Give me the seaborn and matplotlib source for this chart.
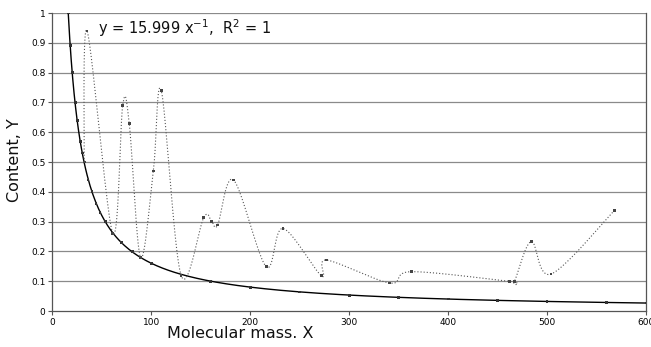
import numpy as np
import matplotlib.pyplot as plt
import seaborn as sns

# ---- data ----
# theoretical content (solid curve with small markers)
mass_calc = [16, 18, 20, 23, 25, 28, 30, 32, 36, 40, 44, 48, 54, 61, 70, 81, 89,
             100, 130, 160, 200, 250, 300, 350, 400, 450, 500, 560, 600]
content_calc = [1.0, 0.89, 0.80, 0.70, 0.64, 0.57, 0.53, 0.50, 0.44, 0.40, 0.36,
                0.33, 0.30, 0.26, 0.23, 0.20, 0.18, 0.16, 0.12, 0.10, 0.08, 0.064,
                0.053, 0.046, 0.040, 0.036, 0.032, 0.029, 0.027]

# measured content (dotted smoothed line)
mass_meas = [32, 35, 61, 71, 77.6, 89, 102, 110, 130, 153, 161, 167, 183, 216,
             233, 272, 277, 341, 363, 462, 467, 484, 504, 568]
content_meas = [0.50, 0.94, 0.26, 0.69, 0.63, 0.18, 0.47, 0.74, 0.12, 0.314, 0.30,
                0.289, 0.44, 0.149, 0.277, 0.118, 0.171, 0.094, 0.132, 0.10, 0.10,
                0.233, 0.124, 0.337]

x_ticks = [0, 100, 200, 300, 400, 500, 600]
y_ticks = [0, 0.1, 0.2, 0.3, 0.4, 0.5, 0.6, 0.7, 0.8, 0.9, 1]
y_ticklabels = ["0", "0.1", "0.2", "0.3", "0.4", "0.5", "0.6", "0.7", "0.8", "0.9", "1"]
fit_text = "y = 15.999 x$^{-1}$,  R$^{2}$ = 1"


def smooth_line(x, y, n=40):
    # Excel-like smoothed line: bezier segments with catmull-rom control points
    px = np.array(x, dtype=float)
    py = np.array(y, dtype=float)
    px = np.concatenate([[px[0]], px, [px[-1]]])
    py = np.concatenate([[py[0]], py, [py[-1]]])
    t = np.linspace(0, 1, n)
    xs, ys = [], []
    for i in range(1, len(px) - 2):
        p0 = np.array([px[i], py[i]])
        p3 = np.array([px[i + 1], py[i + 1]])
        c1 = p0 + (p3 - np.array([px[i - 1], py[i - 1]])) / 6
        c2 = p3 - (np.array([px[i + 2], py[i + 2]]) - p0) / 6
        pts = (((1 - t) ** 3)[:, None] * p0 + (3 * (1 - t) ** 2 * t)[:, None] * c1
               + (3 * (1 - t) * t ** 2)[:, None] * c2 + (t ** 3)[:, None] * p3)
        xs.extend(pts[:, 0])
        ys.extend(pts[:, 1])
    return np.array(xs), np.array(ys)


sns.set_theme(style="white")
plt.rcParams["font.family"] = ["DejaVu Sans"]

fig = plt.figure(figsize=(6.51, 3.47), dpi=100)
ax = fig.add_axes([0.0806, 0.1037, 0.9117, 0.8588])

# gridlines
for yv in y_ticks[1:]:
    ax.axhline(yv, color="#8a8a8a", lw=0.9, zorder=0)

# power trendline fitted to the theoretical points
coef = np.polyfit(np.log(mass_calc), np.log(content_calc), 1)
xt = np.linspace(mass_calc[0], 600, 400)
yt = np.exp(coef[1]) * xt ** coef[0]
sns.lineplot(x=xt, y=yt, color="black", lw=1.0, ax=ax, sort=False, estimator=None)
sns.scatterplot(x=mass_calc, y=content_calc, marker="s", s=4, color="#333333",
                edgecolor="none", ax=ax, zorder=3)

# measured, smoothed dotted line
sx, sy = smooth_line(mass_meas, content_meas)
sns.lineplot(x=sx, y=sy, color="#555555", lw=0.8, linestyle=(0, (1, 1.8)),
             ax=ax, sort=False, estimator=None)
sns.scatterplot(x=mass_meas, y=content_meas, marker="s", s=4, color="#444444",
                edgecolor="none", ax=ax, zorder=3)

ax.set_xlim(0, 600)
ax.set_ylim(0, 1)
ax.set_xticks(x_ticks)
ax.set_yticks(y_ticks)
ax.set_yticklabels(y_ticklabels)
ax.tick_params(axis="both", labelsize=6.5, length=3, width=0.8, color="#555555",
               labelcolor="black", pad=2, direction="out", left=True, bottom=True)

for side in ["left", "bottom", "right"]:
    ax.spines[side].set_color("#555555")
    ax.spines[side].set_linewidth(0.9)
ax.spines["top"].set_visible(False)

ax.set_xlabel("Molecular mass. X", fontsize=11.5, color="#111111")
ax.set_ylabel("Content, Y", fontsize=11.5, color="#111111")
ax.xaxis.set_label_coords(0.316, -0.05)
ax.yaxis.set_label_coords(-0.052, 0.505)

ax.text(46, 0.948, fit_text, fontsize=10.5, va="center", ha="left", color="#111111")

fig.savefig("out.png", dpi=100)
